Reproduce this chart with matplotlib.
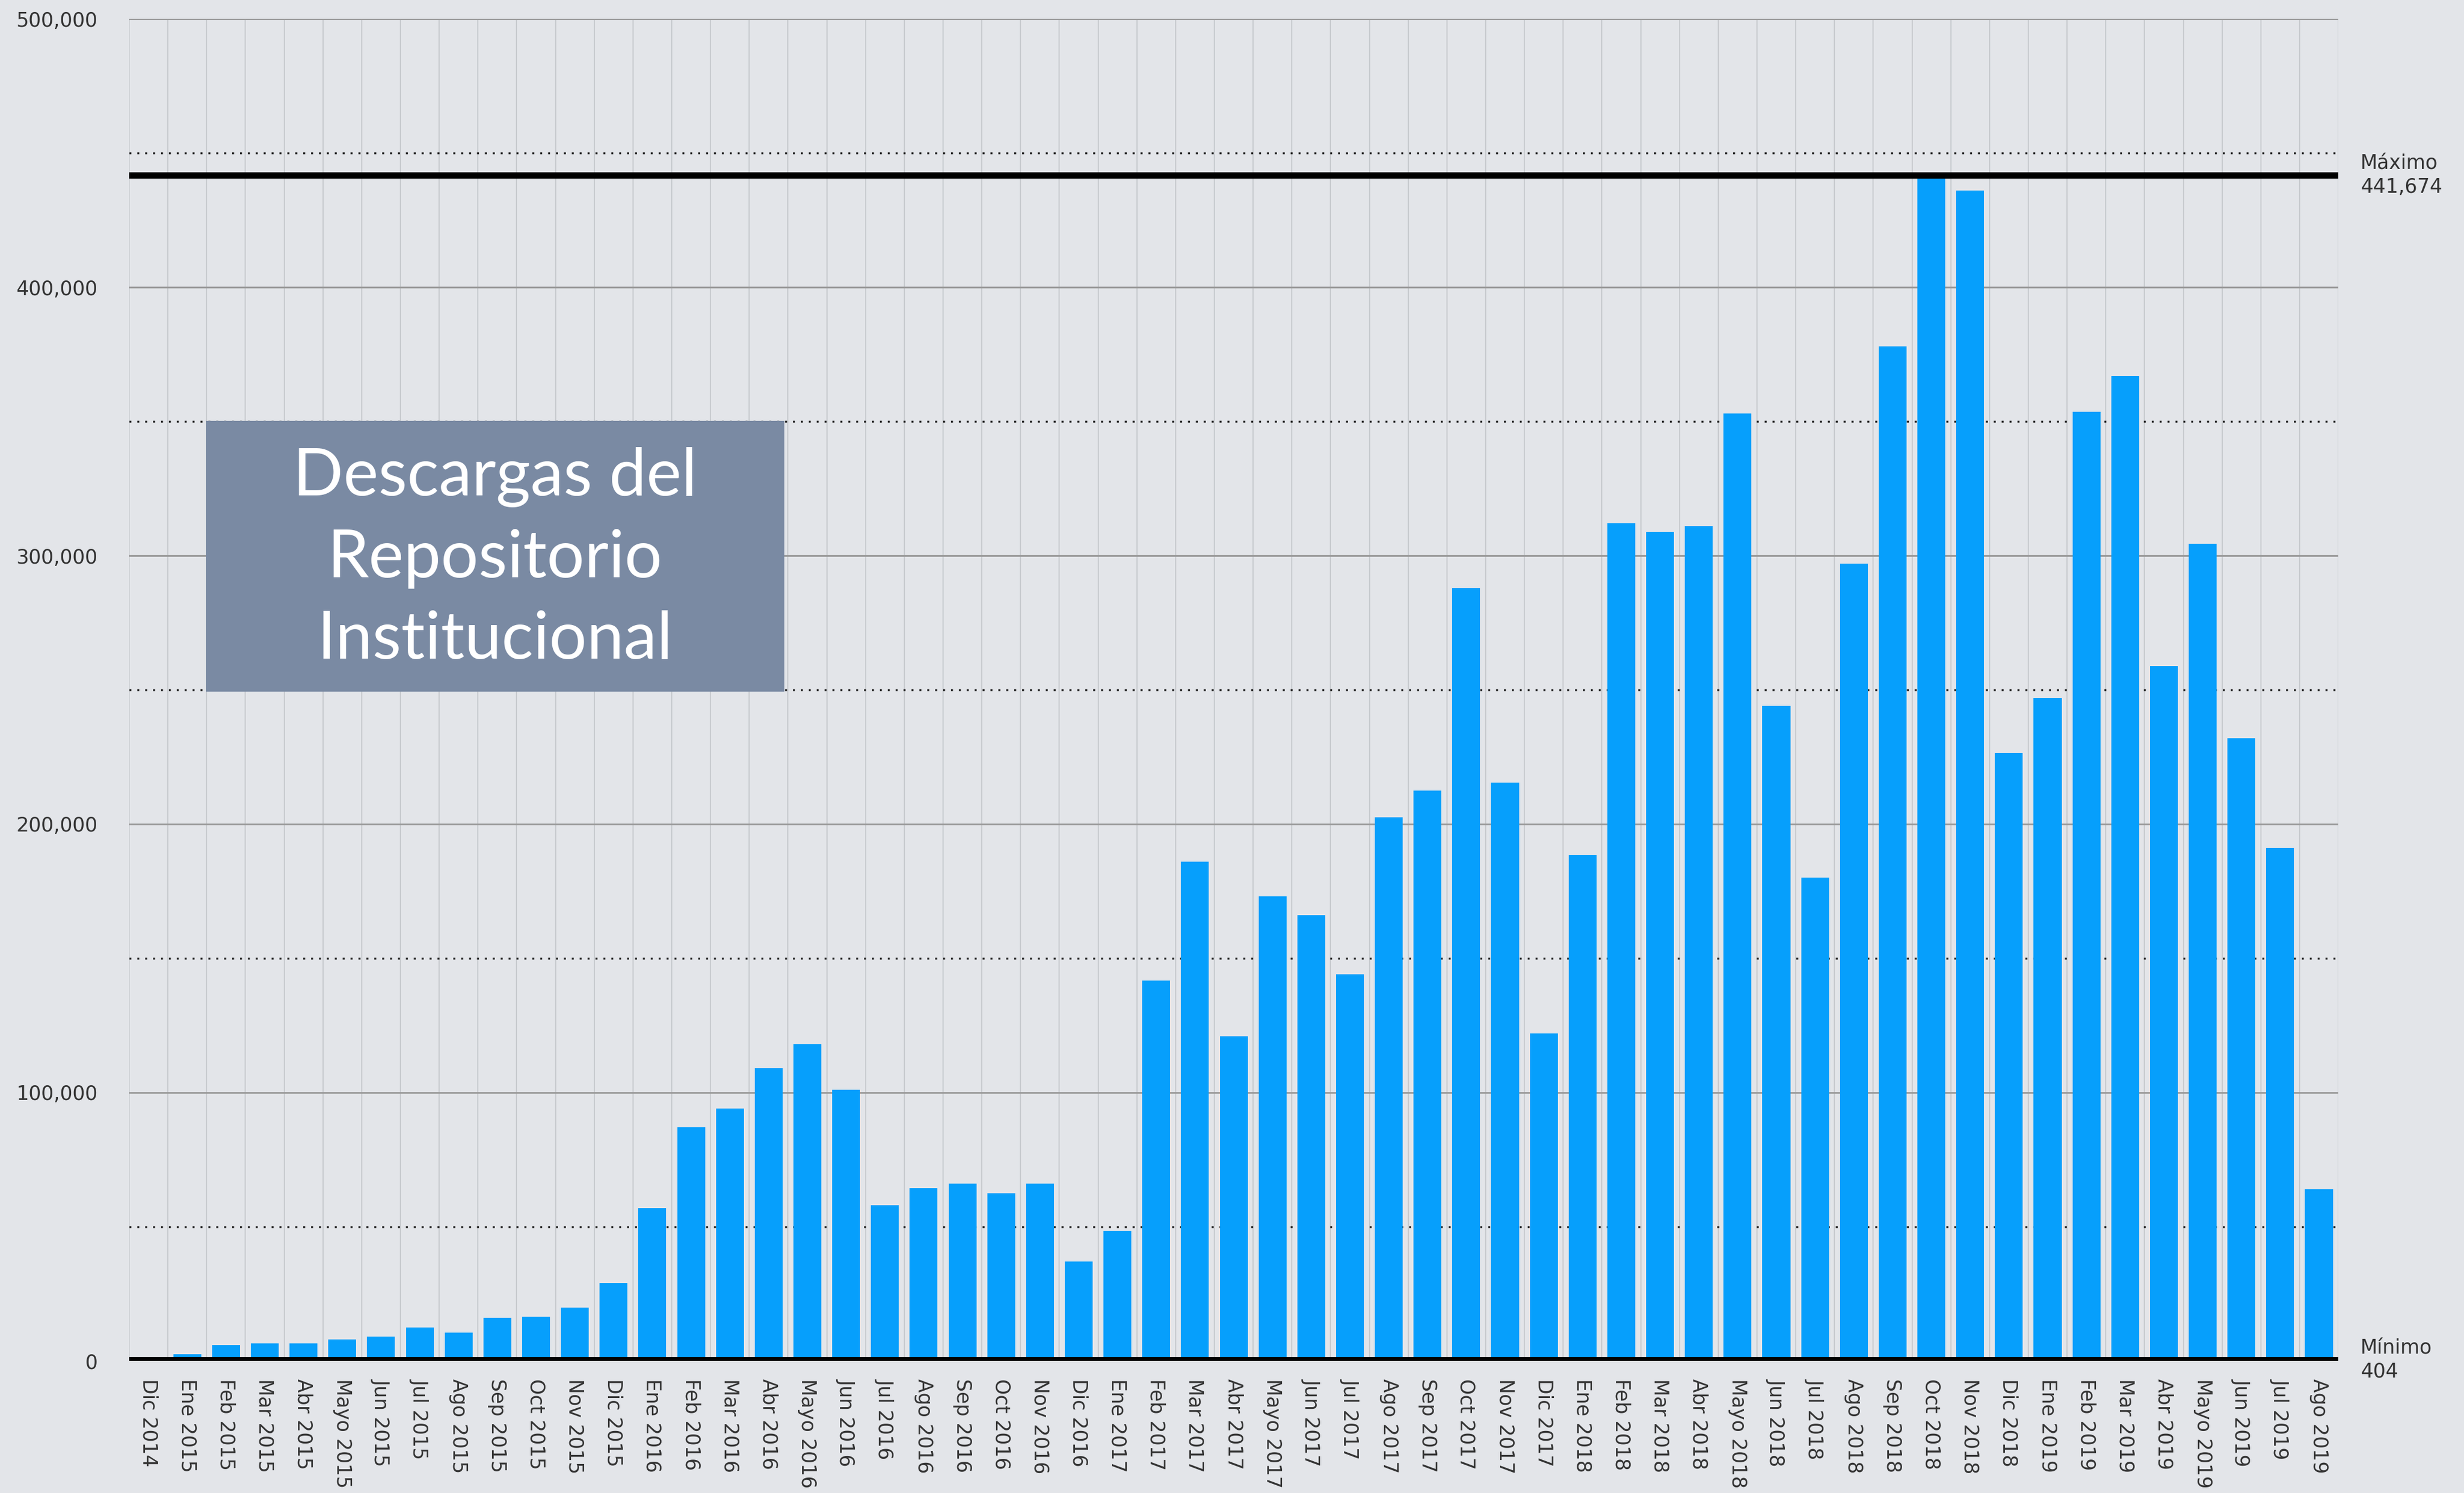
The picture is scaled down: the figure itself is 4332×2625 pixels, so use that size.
import matplotlib
matplotlib.use("Agg")
from matplotlib import pyplot as plt
from matplotlib.patches import Rectangle

# monthly downloads, Dic 2014 .. Ago 2019
months = ["Dic 2014",
          "Ene 2015", "Feb 2015", "Mar 2015", "Abr 2015", "Mayo 2015", "Jun 2015",
          "Jul 2015", "Ago 2015", "Sep 2015", "Oct 2015", "Nov 2015", "Dic 2015",
          "Ene 2016", "Feb 2016", "Mar 2016", "Abr 2016", "Mayo 2016", "Jun 2016",
          "Jul 2016", "Ago 2016", "Sep 2016", "Oct 2016", "Nov 2016", "Dic 2016",
          "Ene 2017", "Feb 2017", "Mar 2017", "Abr 2017", "Mayo 2017", "Jun 2017",
          "Jul 2017", "Ago 2017", "Sep 2017", "Oct 2017", "Nov 2017", "Dic 2017",
          "Ene 2018", "Feb 2018", "Mar 2018", "Abr 2018", "Mayo 2018", "Jun 2018",
          "Jul 2018", "Ago 2018", "Sep 2018", "Oct 2018", "Nov 2018", "Dic 2018",
          "Ene 2019", "Feb 2019", "Mar 2019", "Abr 2019", "Mayo 2019", "Jun 2019",
          "Jul 2019", "Ago 2019"]

downloads = [404,
             2500, 6000, 6500, 6500, 8000, 9000,
             12500, 10500, 16000, 16500, 20000, 29000,
             57000, 87000, 94000, 109000, 118000, 101000,
             58000, 64500, 66000, 62500, 66000, 37000,
             48500, 141700, 186000, 121000, 173000, 166000,
             144000, 202500, 212500, 288000, 215500, 122000,
             188500, 312000, 309000, 311000, 353000, 244000,
             180000, 297000, 378000, 441674, 436000, 226500,
             247000, 353600, 367000, 259000, 304400, 232000,
             191000, 64000]

y_ticks = [0, 100000, 200000, 300000, 400000, 500000]
y_dotted = [50000, 150000, 250000, 350000, 450000]
max_val = 441674
min_val = 404

bg = "#e3e5e9"
bar_color = "#069ffc"
txt_color = "#333333"

fig = plt.figure(figsize=(43.32, 26.25), dpi=100, facecolor=bg)
ax = fig.add_axes([0.0524, 0.0884, 0.8966, 0.899])
ax.set_facecolor(bg)

x = list(range(len(months)))

# vertical grid, one per category
for k in range(len(months) + 1):
    ax.axvline(k - 0.5, color="#c8cbcf", lw=1.5, zorder=0)

for v in y_ticks[1:]:
    ax.axhline(v, color="#9a9a9a", lw=2.2, zorder=1)
for v in y_dotted:
    ax.axhline(v, color="#222222", lw=2.5, dashes=(1, 3), zorder=1)

ax.bar(x, downloads, width=0.72, color=bar_color, zorder=2)

ax.axhline(max_val, color="black", lw=8, zorder=3)
ax.axhline(min_val, color="black", lw=8, zorder=3)

ax.set_xlim(-0.5, len(months) - 0.5)
ax.set_ylim(0, 500000)

ax.set_yticks(y_ticks)
ax.set_yticklabels([f"{v:,}" for v in y_ticks])
ax.set_xticks(x)
ax.set_xticklabels(months, rotation=270, ha="center", va="top")
ax.tick_params(axis="y", length=0, pad=40, labelsize=25, labelcolor=txt_color)
ax.tick_params(axis="x", length=0, pad=22, labelsize=25, labelcolor=txt_color)
for s in ax.spines.values():
    s.set_visible(False)

ax.text(1.01, max_val, "Máximo\n441,674", transform=ax.get_yaxis_transform(),
        ha="left", va="center", fontsize=25, color=txt_color, linespacing=1.25)
ax.text(1.01, min_val, "Mínimo\n404", transform=ax.get_yaxis_transform(),
        ha="left", va="center", fontsize=25, color=txt_color, linespacing=1.25)

# title box
fig.patches.append(Rectangle((0.0836, 0.5368), 0.2348, 0.1813, transform=fig.transFigure,
                             facecolor="#7a8aa3", edgecolor="none", zorder=5))
fig.text(0.2009, 0.626, "Descargas del\nRepositorio\nInstitucional", ha="center", va="center",
         fontsize=84, color="white", family=["Lato", "DejaVu Sans"], fontweight="normal",
         linespacing=1.45, zorder=6)

fig.savefig("out.png", dpi=100, facecolor=bg)
